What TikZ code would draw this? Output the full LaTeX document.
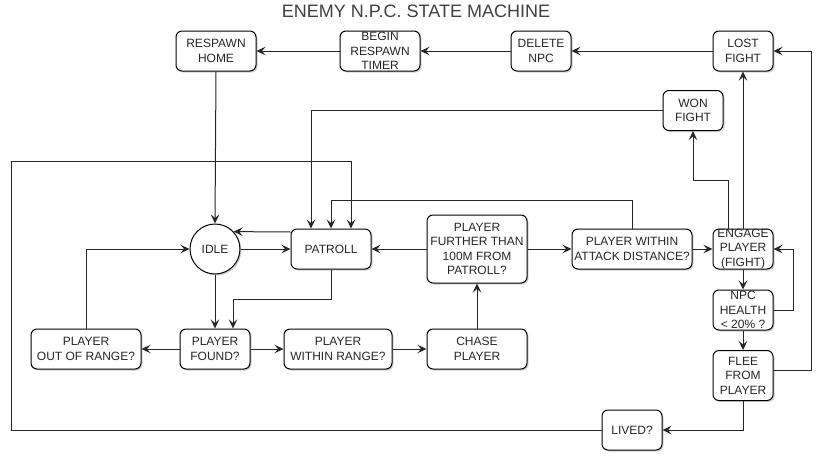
\documentclass[tikz,border=0pt]{standalone}
\usepackage{fontspec}
\setmainfont{Liberation Sans}
\usetikzlibrary{arrows.meta,shadows}
\begin{document}
\begin{tikzpicture}[x=1pt,y=-1pt,
  txt/.style={align=center, inner sep=0pt, text=black!85, font=\fontsize{12}{14.4}\selectfont},
  box/.style n args={2}{draw=black, line width=1pt, rounded corners=6pt, fill=white,
    minimum width=#1pt, minimum height=#2pt, txt,
    drop shadow={shadow xshift=1.5pt, shadow yshift=-1.5pt, opacity=0.18, fill=black}},
  circ/.style={draw=black, line width=1pt, circle, fill=white, minimum size=50pt, txt,
    drop shadow={shadow xshift=1.5pt, shadow yshift=-1.5pt, opacity=0.18, fill=black}},
  arr/.style={line width=1pt, draw=black!85, -{Stealth[length=9pt,width=8.5pt,inset=3.5pt]}}
]
\useasboundingbox[fill=white] (0,0) rectangle (837,458);

\node[font=\fontsize{18}{21}\selectfont, text=black!75, inner sep=0pt] (title) at (416,11) {ENEMY N.P.C. STATE MACHINE};

% nodes
\node[box={80}{40}] (resp) at (216,51) {RESPAWN\\HOME};
\node[box={80}{40}] (timer) at (380,51) {BEGIN\\RESPAWN\\TIMER};
\node[box={60}{40}] (del) at (541,51) {DELETE\\NPC};
\node[box={60}{40}] (lost) at (743,51) {LOST\\FIGHT};
\node[box={60}{40}] (won) at (693,110.5) {WON\\FIGHT};

\node[circ] (idle) at (215,249) {IDLE};
\node[box={80}{40}] (patroll) at (331,249) {PATROLL};
\node[box={100}{68}] (further) at (477,249) {PLAYER\\FURTHER THAN\\100M FROM\\PATROLL?};
\node[box={120}{40}] (attack) at (632,249) {PLAYER WITHIN\\ATTACK DISTANCE?};
\node[box={60}{40}] (engage) at (743,249) {};
\node[txt] (engaget) at (engage) {ENGAGE\\PLAYER\\(FIGHT)};
\node[box={60}{40}] (health) at (743,310) {};
\node[txt] (healtht) at (health) {NPC\\HEALTH\\< 20\% ?};
\node[box={60}{50}] (flee) at (743,375.5) {FLEE\\FROM\\PLAYER};
\node[box={60}{40}] (lived) at (632,430) {LIVED?};

\node[box={70}{40}] (found) at (215,349) {PLAYER\\FOUND?};
\node[box={110}{40}] (outr) at (86,349) {PLAYER\\OUT OF RANGE?};
\node[box={108}{40}] (within) at (338,349) {PLAYER\\WITHIN RANGE?};
\node[box={100}{40}] (chase) at (477,349) {CHASE\\PLAYER};

% waypoints
\coordinate (c1) at (632,200);
\coordinate (c2) at (11,161);
\coordinate (c3) at (331,299);
\coordinate (c4) at (728,180);
\coordinate (c5) at (793,310);
\coordinate (c6) at (811,370);

% connectors
\draw[arr] (timer.west) -- (resp.east);
\draw[arr] (del.west) -- (timer.east);
\draw[arr] (lost.west) -- (del.east);
\draw[arr] (resp.south) -- (idle.north);
\draw[arr] (won.west) -| ([xshift=-20pt]patroll.north);
\draw[arr] (attack.north) -- (c1) -| (patroll.north);
\draw[arr] (lived.west) -| (c2) -| ([xshift=20pt]patroll.north);
\draw[arr] ([yshift=17pt]patroll.west) -- (idle.43);
\draw[arr] (idle.east) -- (patroll.west);
\draw[arr] (idle.south) -- (found.north);
\draw[arr] (patroll.south) -- (c3) -| ([xshift=18pt]found.north);
\draw[arr] (found.west) -- (outr.east);
\draw[arr] (outr.north) |- (idle.west);
\draw[arr] (found.east) -- (within.west);
\draw[arr] (within.east) -- (chase.west);
\draw[arr] (chase.north) -- (further.south);
\draw[arr] (further.west) -- (patroll.east);
\draw[arr] (further.east) -- (attack.west);
\draw[arr] (attack.east) -- (engage.west);
\draw[arr] ([xshift=-15pt]engage.north) -- (c4) -| (won.south);
\draw[arr] (engage.north) -- (lost.south);
\draw[arr] (engage.south) -- (health.north);
\draw[arr] (health.east) -- (c5) |- (engage.east);
\draw[arr] (health.south) -- (flee.north);
\draw[arr] ([yshift=5.5pt]flee.east) -- (c6) |- (lost.east);
\draw[arr] (flee.south) |- (lived.east);
\end{tikzpicture}
\end{document}
